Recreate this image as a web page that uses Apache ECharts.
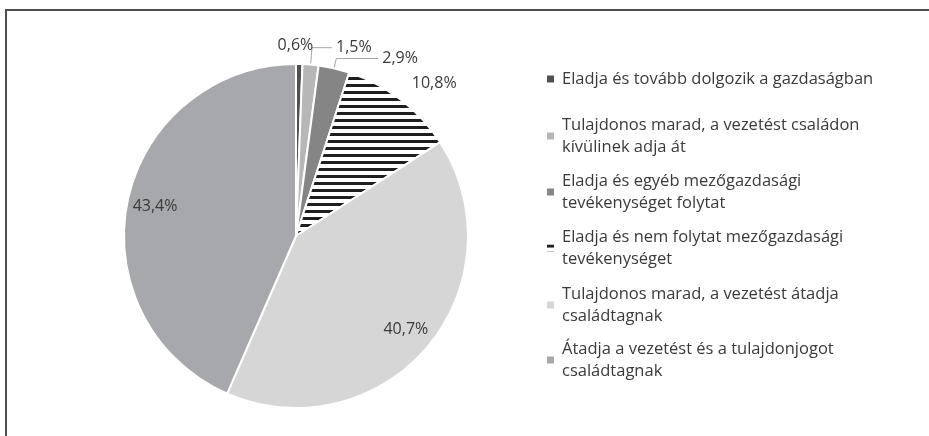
<!DOCTYPE html>
<html>
<head>
<meta charset="utf-8">
<script src="https://cdn.jsdelivr.net/npm/echarts@6/dist/echarts.min.js"></script>
<style>
  html, body { margin: 0; padding: 0; background: #fff; }
  #wrap { position: relative; width: 929px; height: 436px; }
  #chart { width: 929px; height: 436px; }
  #frame {
    position: absolute; left: 5px; top: 9px; right: 0; bottom: 0;
    border-top: 2px solid #4d4d4d; border-left: 2px solid #4d4d4d;
    pointer-events: none;
  }
</style>
</head>
<body>
<div id="wrap">
  <div id="chart"></div>
  <div id="frame"></div>
</div>
<script>
// categories in drawing order (clockwise from 12 o'clock)
const categories = [
  'Eladja és tovább dolgozik a gazdaságban',
  'Tulajdonos marad, a vezetést családon\nkívülinek adja át',
  'Eladja és egyéb mezőgazdasági\ntevékenységet folytat',
  'Eladja és nem folytat mezőgazdasági\ntevékenységet',
  'Tulajdonos marad, a vezetést átadja\ncsaládtagnak',
  'Átadja a vezetést és a tulajdonjogot\ncsaládtagnak'
];
const shares = [0.6, 1.5, 2.9, 10.8, 40.7, 43.4];

// horizontal black/white stripes for the 10,8% slice
function stripes() {
  const c = document.createElement('canvas');
  c.width = 4; c.height = 7;
  const ctx = c.getContext('2d');
  ctx.fillStyle = '#ffffff';
  ctx.fillRect(0, 0, 4, 7);
  ctx.fillStyle = '#1e1e1e';
  ctx.fillRect(0, 0, 4, 3);
  return { image: c, repeat: 'repeat' };
}

const colors = ['#505050', '#b7b7b7', '#858585', stripes(), '#d6d6d6', '#a7a8ab'];
const FONT = '"Open Sans", "Noto Sans", sans-serif';
const TXT = '#3a3a3a';
const R = 172;

// outside labels of the small slices: [line length, length2, show line]
const outside = [[19, 0, false], [17, 20, true], [10, 42, true], [20, 0, false]];
// small nudges for the two labels drawn without a leader line
const nudge = { 0: { dx: -26 }, 3: { dx: -5 } };

const fmt = (p) => p.value.toFixed(1).replace('.', ',') + '%';

const mainData = categories.map((name, i) => {
  const item = { name, value: shares[i], itemStyle: { color: colors[i] } };
  if (i < outside.length) {
    item.label = { show: true, position: 'outside' };
    item.labelLine = { show: outside[i][2], length: outside[i][0], length2: outside[i][1] };
  } else {
    item.label = { show: false };
    item.labelLine = { show: false };
  }
  return item;
});

const innerData = categories.map((name, i) => ({
  name, value: shares[i],
  label: { show: i >= outside.length }
}));

// one legend block per entry so the spacing follows the original
const legendCenters = [79, 136, 192, 248, 305, 360];
const legends = categories.map((name, i) => {
  const multi = name.indexOf('\n') > -1;
  return {
    left: 547,
    top: legendCenters[i] - 11 - (multi ? 22 : 0),
    padding: 0,
    orient: 'vertical',
    selectedMode: false,
    icon: 'rect',
    itemWidth: 7,
    itemHeight: 7,
    itemStyle: { borderWidth: 0 },
    textStyle: {
      fontFamily: FONT, fontSize: 16.5, color: TXT, lineHeight: 22,
      padding: [multi ? 22 : 0, 0, 0, 3]
    },
    data: [{ name }]
  };
});

const chart = echarts.init(document.getElementById('chart'), null, { renderer: 'canvas' });
chart.setOption({
  backgroundColor: '#ffffff',
  animation: false,
  legend: legends,
  series: [
    {
      type: 'pie',
      center: [296, 236],
      radius: [0, R],
      startAngle: 90,
      clockwise: true,
      avoidLabelOverlap: false,
      itemStyle: { borderColor: '#ffffff', borderWidth: 2 },
      label: {
        formatter: fmt,
        fontFamily: FONT, fontSize: 16, color: TXT,
        distanceToLabelLine: 4
      },
      labelLine: { lineStyle: { color: '#a6a6a6', width: 1 }, minTurnAngle: 0 },
      labelLayout: (p) => nudge[p.dataIndex],
      emphasis: { disabled: true },
      data: mainData
    },
    {
      // transparent ring, only used to place the two big labels at ~0.82 r
      type: 'pie',
      center: [296, 236],
      radius: [110, R],
      startAngle: 90,
      silent: true,
      legendHoverLink: false,
      itemStyle: { color: 'rgba(0,0,0,0)' },
      label: {
        position: 'inside', formatter: fmt,
        fontFamily: FONT, fontSize: 16, color: TXT
      },
      labelLine: { show: false },
      emphasis: { disabled: true },
      data: innerData
    }
  ]
});
</script>
</body>
</html>
